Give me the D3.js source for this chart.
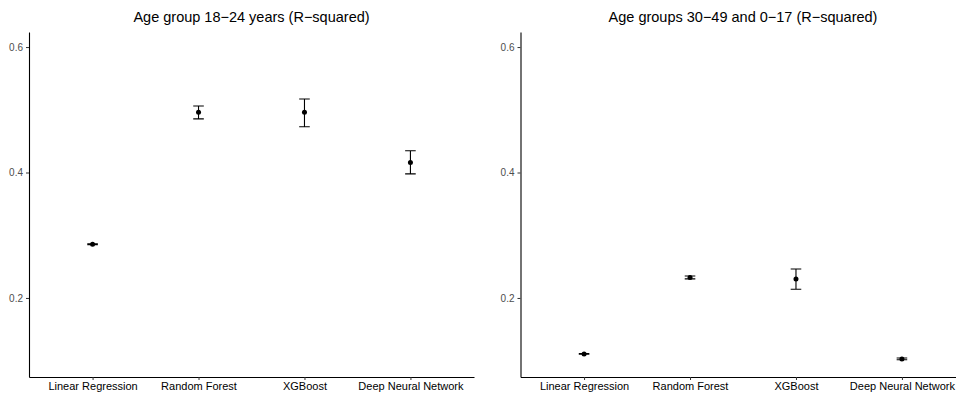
<!DOCTYPE html>
<html>
<head>
<meta charset="utf-8">
<script src="https://cdn.jsdelivr.net/npm/d3@7"></script>
<style>
  body { margin: 0; background: #fff; }
  svg { display: block; }
</style>
</head>
<body>
<svg id="chart" width="956" height="394"></svg>
<script>
// Chart data
const categories = ['Linear Regression', 'Random Forest', 'XGBoost', 'Deep Neural Network'];
const yTicks = [0.2, 0.4, 0.6];

const leftTitle = 'Age group 18\u221224 years (R\u2212squared)';
const leftMean = [0.2856, 0.4962, 0.4960, 0.4158];
const leftLow = [0.2850, 0.4855, 0.4730, 0.3978];
const leftHigh = [0.2862, 0.5060, 0.5172, 0.4347];

const rightTitle = 'Age groups 30\u221249 and 0\u221217 (R\u2212squared)';
const rightMean = [0.1108, 0.2327, 0.2303, 0.1028];
const rightLow = [0.1102, 0.2305, 0.2139, 0.1014];
const rightHigh = [0.1114, 0.2349, 0.2462, 0.1042];

const svg = d3.select('#chart');
const font = '"Liberation Sans", Arial, Helvetica, sans-serif';

const plotTop = 32, plotBottom = 377, panelWidth = 445;
const yDomain = [0.074, 0.624];

function drawPanel(left, title, means, lows, highs) {
  const xScale = d3.scalePoint()
    .domain(categories)
    .range([left, left + panelWidth])
    .padding(0.6);

  const yScale = d3.scaleLinear()
    .domain(yDomain)
    .range([plotBottom, plotTop]);

  const g = svg.append('g');

  // Title
  g.append('text')
    .attr('x', left + panelWidth / 2)
    .attr('y', 21.5)
    .attr('text-anchor', 'middle')
    .attr('font-family', font)
    .attr('font-size', '14.5px')
    .attr('fill', '#000')
    .text(title);

  // Y axis
  const yAxisGroup = g.append('g')
    .attr('transform', `translate(${left}, 0)`)
    .call(d3.axisLeft(yScale)
      .tickValues(yTicks)
      .tickFormat(d3.format('.1f'))
      .tickSize(3)
      .tickSizeOuter(0)
      .tickPadding(3));

  yAxisGroup.select('.domain').attr('stroke', '#000').attr('stroke-width', 1.1);
  yAxisGroup.selectAll('.tick line').attr('stroke', '#333');
  yAxisGroup.selectAll('text')
    .attr('fill', '#4D4D4D')
    .attr('font-size', '10px')
    .attr('font-family', font);

  // X axis
  const xAxisGroup = g.append('g')
    .attr('transform', `translate(0, ${plotBottom})`)
    .call(d3.axisBottom(xScale).tickSize(3).tickSizeOuter(0).tickPadding(2.5));

  xAxisGroup.select('.domain').attr('stroke', '#000').attr('stroke-width', 1.1);
  xAxisGroup.selectAll('.tick line').attr('stroke', '#333');
  xAxisGroup.selectAll('text')
    .attr('fill', '#000')
    .attr('font-size', '11px')
    .attr('font-family', font);

  const rows = categories.map((c, i) => ({ c, mean: means[i], low: lows[i], high: highs[i] }));
  const half = xScale.step() * 0.05;

  // Error bars
  g.append('g').attr('class', 'errorbars')
    .selectAll('path')
    .data(rows)
    .join('path')
    .attr('d', d => {
      const x = xScale(d.c);
      const y1 = yScale(d.high), y2 = yScale(d.low);
      return `M${x - half},${y1}H${x + half}M${x},${y1}V${y2}M${x - half},${y2}H${x + half}`;
    })
    .attr('fill', 'none')
    .attr('stroke', '#000')
    .attr('stroke-width', 1.1);

  // Points
  g.append('g').selectAll('circle')
    .data(rows)
    .join('circle')
    .attr('cx', d => xScale(d.c))
    .attr('cy', d => yScale(d.mean))
    .attr('r', 2.5)
    .attr('fill', '#000');
}

drawPanel(29, leftTitle, leftMean, leftLow, leftHigh);
drawPanel(520.5, rightTitle, rightMean, rightLow, rightHigh);
</script>
</body>
</html>
